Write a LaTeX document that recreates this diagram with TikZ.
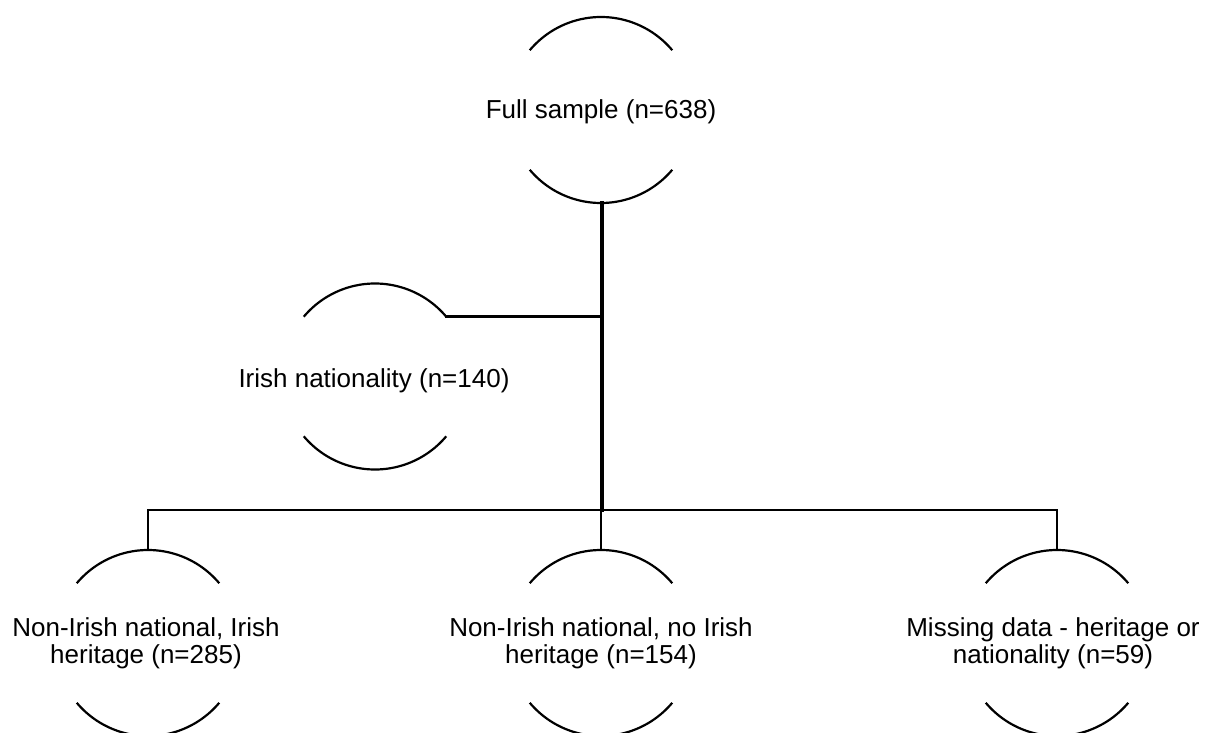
\documentclass[tikz,border=0pt]{standalone}
\usepackage{fontspec}
\setmainfont{Liberation Sans}
\begin{document}
\begin{tikzpicture}[x=1pt,y=-1pt,
  ring/.style={circle,minimum size=186pt,inner sep=0pt,outer sep=0pt},
  ringline/.style={line width=2.2pt,black},
  caption/.style={align=center,inner sep=0pt,font=\fontsize{26}{27}\selectfont},
  link/.style={line width=2.8pt,black,line cap=rect},
  trunk/.style={link,line width=3.6pt}]
\newcommand\ringarcs[1]{%
  \draw[ringline] (#1.40) arc[start angle=40,end angle=140,radius=93pt];
  \draw[ringline] (#1.220) arc[start angle=220,end angle=320,radius=93pt];}
\useasboundingbox (0,0) rectangle (1207,733);

% circular groups, drawn as upper and lower arcs only
\node[ring] (full)  at (601,110)   {};
\node[ring] (irish) at (375,376.5) {};
\node[ring] (herit) at (148,643)   {};
\node[ring] (noher) at (601,643)   {};
\node[ring] (miss)  at (1057,643)  {};
\foreach \n in {full,irish,herit,noher,miss} {\ringarcs{\n}}

% labels
\node[caption] (fullt)  at ([yshift=-2pt]full)  {Full sample (n=638)};
\node[caption] (irisht) at ([xshift=-1pt,yshift=-4pt]irish) {Irish nationality (n=140)};
\node[caption] (heritt) at ([xshift=-2pt]herit) {Non-Irish national, Irish\\heritage (n=285)};
\node[caption] (nohert) at (noher) {Non-Irish national, no Irish\\heritage (n=154)};
\node[caption] (misst)  at ([xshift=-4pt]miss)  {Missing data - heritage or\\nationality (n=59)};

% tree connectors
\coordinate (split) at ([xshift=1pt]full.south |- irish.40);
\coordinate (bar)   at (601,510);
\draw[link] (split) -- (irish.40);
\draw[link] (herit.north) |- (bar) -| (miss.north);
\draw[link] (bar) -- (noher.north);
\draw[trunk] ([xshift=1pt]full.south) -- ([xshift=1pt]bar);
\end{tikzpicture}
\end{document}
